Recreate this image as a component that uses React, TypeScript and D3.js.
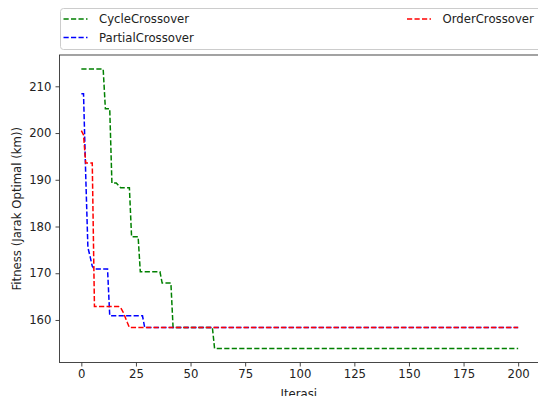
import * as d3 from 'd3';
import React, { useRef, useEffect } from 'react';

// points (iteration, fitness) at every change of value
const cycleIter = [0, 10, 11, 13, 14, 16, 17, 18, 22, 23, 26, 27, 36, 37, 41, 42, 60, 61, 200];
const cycleFit = [213.7, 213.7, 205.2, 205.2, 189.3, 189.3, 188.8, 188.3, 188.3, 177.8, 177.8, 170.3, 170.3, 167.9, 167.9, 158.4, 158.4, 153.9, 153.9];

const partialIter = [0, 1, 2, 3, 4, 5, 6, 12, 13, 28, 29, 200];
const partialFit = [208.4, 208.4, 191, 175.5, 173.6, 171.5, 170.9, 170.9, 160.9, 160.9, 158.4, 158.4];

const orderIter = [0, 1, 2, 5, 6, 17, 18, 19, 20, 21, 22, 200];
const orderFit = [200.5, 199.6, 193.6, 193.6, 162.9, 162.9, 162.6, 161.8, 160.7, 159.5, 158.4, 158.4];

const seriesNames = ['CycleCrossover', 'PartialCrossover', 'OrderCrossover'];
const seriesColors = ['#008000', '#0000ff', '#ff0000'];

const xTicks = [0, 25, 50, 75, 100, 125, 150, 175, 200];
const yTicks = [160, 170, 180, 190, 200, 210];

const font = 'DejaVu Sans, sans-serif';
const fontSize = 11.7;

function App() {
  const svgRef = useRef<SVGSVGElement>(null);
  const width = 538;
  const height = 396;
  const left = 59.5;
  const right = 540;
  const top = 55;
  const bottom = 362.5;

  useEffect(() => {
    const svg = d3.select(svgRef.current);
    svg.selectAll('*').remove();

    const xScale = d3.scaleLinear().domain([-10, 210]).range([left, right]);
    const yScale = d3.scaleLinear().domain([150.9, 216.7]).range([bottom, top]);

    svg.append('defs')
      .append('clipPath')
      .attr('id', 'plot-clip')
      .append('rect')
      .attr('x', left)
      .attr('y', top)
      .attr('width', right - left)
      .attr('height', bottom - top);

    const series = [
      { iter: cycleIter, fit: cycleFit },
      { iter: partialIter, fit: partialFit },
      { iter: orderIter, fit: orderFit },
    ];

    const line = d3
      .line<[number, number]>()
      .x((d) => xScale(d[0]))
      .y((d) => yScale(d[1]));

    const plot = svg.append('g').attr('clip-path', 'url(#plot-clip)');
    series.forEach((s, i) => {
      const pts = s.iter.map((t, k) => [t, s.fit[k]] as [number, number]);
      plot
        .append('path')
        .attr('d', line(pts))
        .attr('fill', 'none')
        .attr('stroke', seriesColors[i])
        .attr('stroke-width', 1.5)
        .attr('stroke-dasharray', '5.2 2.3');
    });

    // spines
    svg
      .append('rect')
      .attr('x', left)
      .attr('y', top)
      .attr('width', right - left)
      .attr('height', bottom - top)
      .attr('fill', 'none')
      .attr('stroke', '#333')
      .attr('stroke-width', 0.9);

    const xAxis = d3.axisBottom(xScale).tickValues(xTicks).tickSize(4).tickPadding(3);
    const gx = svg
      .append('g')
      .attr('transform', `translate(0,${bottom})`)
      .call(xAxis);

    const yAxis = d3.axisLeft(yScale).tickValues(yTicks).tickSize(4).tickPadding(4);
    const gy = svg.append('g').attr('transform', `translate(${left},0)`).call(yAxis);

    [gx, gy].forEach((g) => {
      g.select('.domain').remove();
      g.selectAll('line').attr('stroke', '#333').attr('stroke-width', 0.9);
      g.selectAll('text')
        .attr('fill', '#222')
        .style('font-family', font)
        .style('font-size', `${fontSize}px`);
    });

    svg
      .append('text')
      .attr('x', (left + right) / 2 - 1)
      .attr('y', 398)
      .attr('text-anchor', 'middle')
      .attr('fill', '#222')
      .style('font-family', font)
      .style('font-size', `${fontSize}px`)
      .text('Iterasi');

    svg
      .append('text')
      .attr('transform', `translate(21,${(top + bottom) / 2}) rotate(-90)`)
      .attr('text-anchor', 'middle')
      .attr('fill', '#222')
      .style('font-family', font)
      .style('font-size', `${fontSize}px`)
      .text('Fitness (Jarak Optimal (km))');

    // legend, two columns filled column-first
    const legend = svg.append('g');
    legend
      .append('rect')
      .attr('x', 60.5)
      .attr('y', 8.5)
      .attr('width', 490)
      .attr('height', 41)
      .attr('rx', 3)
      .attr('fill', 'white')
      .attr('fill-opacity', 0.8)
      .attr('stroke', '#ccc')
      .attr('stroke-width', 1);

    const legendPos = [
      [63.5, 19],
      [63.5, 37.5],
      [407, 19],
    ];
    seriesNames.forEach((name, i) => {
      const [lx, ly] = legendPos[i];
      legend
        .append('line')
        .attr('x1', lx)
        .attr('x2', lx + 24)
        .attr('y1', ly)
        .attr('y2', ly)
        .attr('stroke', seriesColors[i])
        .attr('stroke-width', 1.5)
        .attr('stroke-dasharray', '5.2 2.3');
      legend
        .append('text')
        .attr('x', lx + 35.5)
        .attr('y', ly)
        .attr('dy', '0.35em')
        .attr('fill', '#222')
        .style('font-family', font)
        .style('font-size', `${fontSize}px`)
        .text(name);
    });
  }, []);

  return (
    <svg
      ref={svgRef}
      width={width}
      height={height}
      style={{ position: 'absolute', left: 0, top: 0, background: 'white' }}
    />
  );
}

export default App;
